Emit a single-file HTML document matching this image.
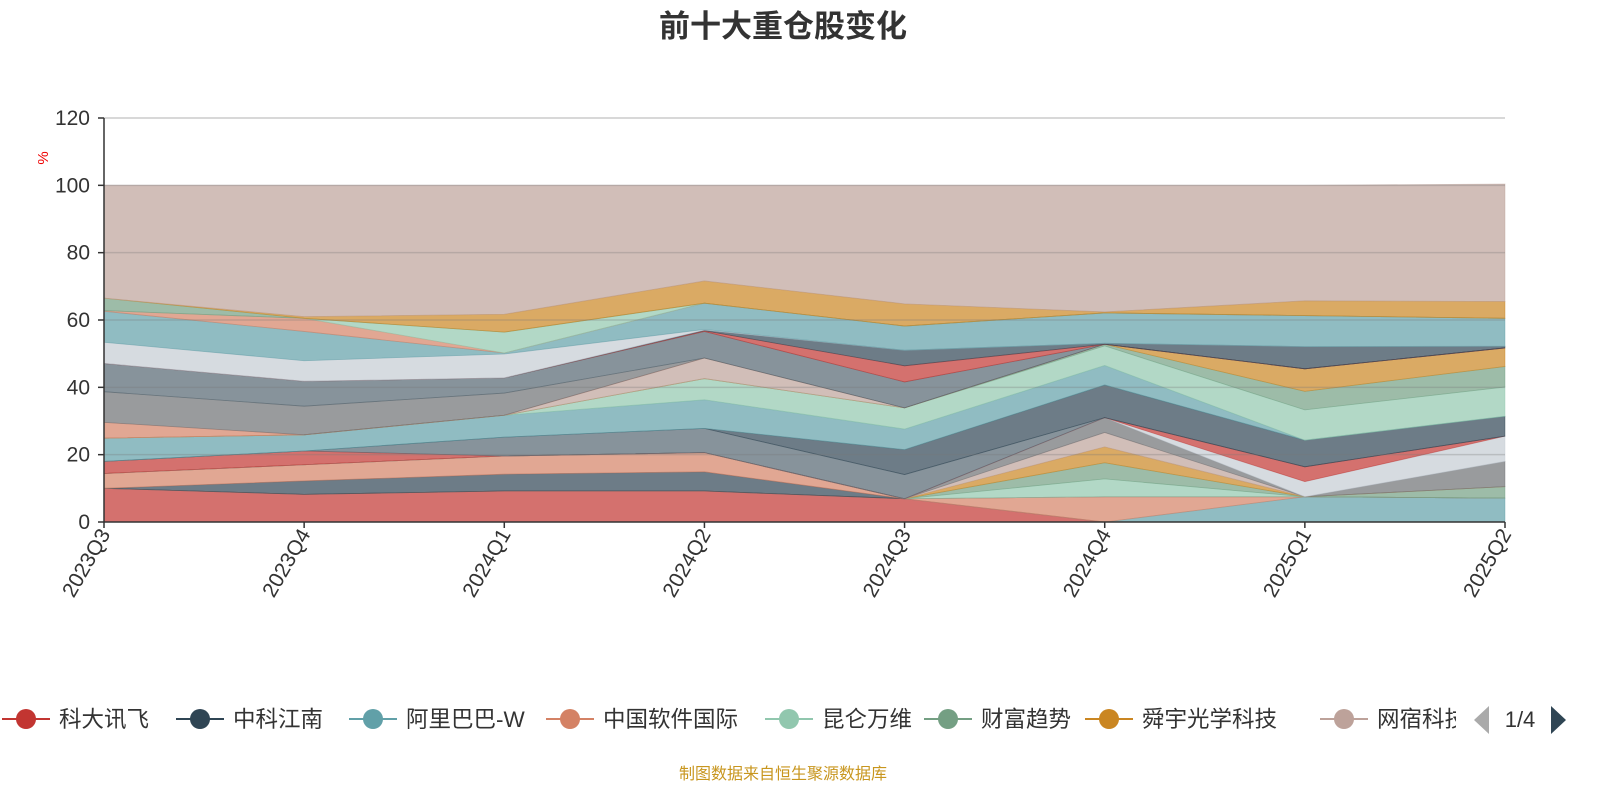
<!DOCTYPE html>
<html><head><meta charset="utf-8">
<style>
body{margin:0;background:#fff;}
svg text{font-family:"Liberation Sans","Noto Sans CJK SC",sans-serif;}
</style></head>
<body>
<svg id="chart" width="1600" height="800" viewBox="0 0 1600 800" xmlns="http://www.w3.org/2000/svg">
<text x="783" y="37" text-anchor="middle" font-size="31" font-weight="bold" fill="#333">前十大重仓股变化</text>
<g id="areas"></g>
<g id="grid"></g>
<g id="axes"></g>
<text transform="translate(48,158) rotate(-90)" text-anchor="middle" font-size="15" fill="#e00">%</text>
<g id="legend"></g>
<text x="783" y="779" text-anchor="middle" font-size="16" fill="#c8961e">制图数据来自恒生聚源数据库</text>
</svg>
<script>
const categories=["2023Q3","2023Q4","2024Q1","2024Q2","2024Q3","2024Q4","2025Q1","2025Q2"];
const yTicks=[0,20,40,60,80,100,120];
const layerColors=["#c23531","#61a0a8","#d48265","#2f4554","#d48265","#91c7ae","#749f83","#ca8622","#bda29a","#6e7074","#c4ccd3","#c23531","#546570","#2f4554","#61a0a8","#91c7ae","#749f83","#ca8622","#bda29a","#d48265","#6e7074","#546570","#c23531","#2f4554","#c4ccd3","#61a0a8","#d48265","#91c7ae","#749f83","#ca8622","#bda29a"];
const s01=[10,8.2,9.2,9.2,6.9,0,0,0];
const s02=[0,0,0,0,0,0,7.5,7.1];
const s03=[0,0,0,0,0,7.5,0,0];
const s04=[0,4,5,5.7,0,0,0,0];
const s05=[4.4,4.8,5.4,5.7,0,0,0,0];
const s06=[0,0,0,0,0,5.3,0,0];
const s07=[0,0,0,0,0,4.8,0,3.4];
const s08=[0,0,0,0,0,4.7,0,0];
const s09=[0,0,0,0,0,4.3,0,0];
const s10=[0,0,0,0,0,4.4,0,7.5];
const s11=[0,0,0,0,0,0,4.5,7.5];
const s12=[3.6,4.1,0,0,0,0,4.4,0];
const s13=[0,0,5.6,7.2,7.2,0,0,0];
const s14=[0,0,0,0,7.4,9.7,7.9,5.9];
const s15=[6.9,4.8,6.5,8.5,6.1,5.8,0,0];
const s16=[0,0,0,6.3,6.3,5.8,9,8.7];
const s17=[0,0,0,0,0,0.5,5.5,6.1];
const s18=[0,0,0,0,0,0,6.7,5.5];
const s19=[0,0,0,6.1,0,0,0,0];
const s20=[4.7,0,0,0,0,0,0,0];
const s21=[9.1,8.5,6.6,0,0,0,0,0];
const s22=[8.4,7.4,4.5,7.9,7.7,0,0,0];
const s23=[0,0,0,0.2,4.8,0,0,0];
const s24=[0,0,0,0.2,4.6,0.3,6.6,0.5];
const s25=[6.3,6.1,7.1,0.2,0,0,0,0];
const s26=[9.2,8.7,0.3,7.8,7.2,9.0,9.2,8.3];
const s27=[0.2,3.9,0,0,0,0,0,0];
const s28=[0,0,6.2,0,0,0,0,0];
const s29=[3.7,0,0,0,0,0,0,0];
const s30=[0,0.5,5.3,6.6,6.6,0.3,4.4,5];
const s31=[33.5,39,38.3,28.4,35.2,37.6,34.3,34.9];
const seriesList=[s01,s02,s03,s04,s05,s06,s07,s08,s09,s10,s11,s12,s13,s14,s15,s16,s17,s18,s19,s20,s21,s22,s23,s24,s25,s26,s27,s28,s29,s30,s31];
const legendNames=["科大讯飞","中科江南","阿里巴巴-W","中国软件国际","昆仑万维","财富趋势","舜宇光学科技","网宿科技"];
const legendColors=["#c23531","#2f4554","#61a0a8","#d48265","#91c7ae","#749f83","#ca8622","#bda29a"];

const NS="http://www.w3.org/2000/svg";
const X0=104,X1=1505,Y0=522,Y1=118,YMAX=120;
const xs=i=>X0+(X1-X0)*i/(categories.length-1);
const ys=v=>Y0-(Y0-Y1)*v/YMAX;
function mk(tag,attrs,parent){const e=document.createElementNS(NS,tag);for(const k in attrs)e.setAttribute(k,attrs[k]);parent.appendChild(e);return e;}

const areas=document.getElementById('areas');
let base=categories.map(()=>0);
seriesList.forEach((s,li)=>{
  const top=base.map((b,i)=>b+s[i]);
  const pts=[];
  top.forEach((v,i)=>pts.push(xs(i)+','+ys(v)));
  for(let i=base.length-1;i>=0;i--)pts.push(xs(i)+','+ys(base[i]));
  const p=mk('polygon',{points:pts.join(' '),fill:layerColors[li],'fill-opacity':0.7,stroke:layerColors[li],'stroke-opacity':0.5,'stroke-width':0.8},areas);
  
  
  base=top;
});

const grid=document.getElementById('grid');
yTicks.forEach(t=>{
  if(t===0)return;
  const l=mk('line',{x1:X0,x2:X1,y1:ys(t),y2:ys(t),stroke:t===120?'#ccc':'#777','stroke-opacity':t===120?1:0.3,'stroke-width':1.5},grid);
  
  
});

const axes=document.getElementById('axes');
const ya=mk('line',{x1:X0,x2:X0,y1:Y1,y2:Y0,stroke:'#333','stroke-width':1.5},axes);


const xa=mk('line',{x1:X0,x2:X1,y1:Y0,y2:Y0,stroke:'#333','stroke-width':1.5},axes);


yTicks.forEach(t=>{
  const tk=mk('line',{x1:X0-6,x2:X0,y1:ys(t),y2:ys(t),stroke:'#333','stroke-width':1.5},axes);
  
  
  const tx=mk('text',{x:X0-14,y:ys(t)+7,'text-anchor':'end','font-size':21,fill:'#333'},axes);
  tx.textContent=t;
  
  
});
categories.forEach((c,i)=>{
  const tk=mk('line',{x1:xs(i),x2:xs(i),y1:Y0,y2:Y0+6,stroke:'#333','stroke-width':1.5},axes);
  
  
  const tx=mk('text',{transform:'translate('+(xs(i)+7)+','+(Y0+12)+') rotate(-60)','text-anchor':'end','font-size':21,fill:'#333'},axes);
  tx.textContent=c;
  
  
});

const legend=document.getElementById('legend');
const lx=[2,176,349,546,765,924,1085,1320];
const clip=mk('clipPath',{id:'lgclip'},legend);
mk('rect',{x:0,y:695,width:1456,height:50},clip);
const lg=mk('g',{'clip-path':'url(#lgclip)'},legend);
legendNames.forEach((n,i)=>{
  const g=mk('g',{},lg);
  
  
  mk('line',{x1:lx[i],x2:lx[i]+48,y1:719,y2:719,stroke:legendColors[i],'stroke-width':2},g);
  mk('circle',{cx:lx[i]+24,cy:719,r:10,fill:legendColors[i]},g);
  const t=mk('text',{x:lx[i]+57,y:727,'font-size':22.5,fill:'#333'},g);
  t.textContent=n;
});
const pl=mk('polygon',{points:'1489,706 1489,734 1474,720',fill:'#aaa'},legend);


const pt=mk('text',{x:1520,y:727,'text-anchor':'middle','font-size':22,fill:'#333'},legend);
pt.textContent='1/4';


const pn=mk('polygon',{points:'1551,706 1551,734 1566,720',fill:'#2f4554'},legend);


</script>
</body></html>
